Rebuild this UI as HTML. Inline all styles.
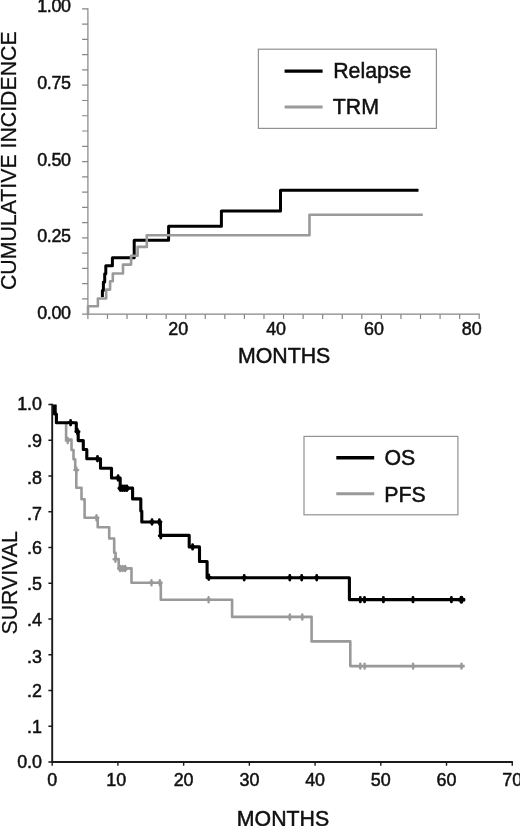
<!DOCTYPE html>
<html><head><meta charset="utf-8"><title>Cumulative incidence and survival</title>
<style>
html,body{margin:0;padding:0;background:#fff;}
body{width:520px;height:826px;overflow:hidden;}
svg{display:block;will-change:transform;}
text{font-family:"Liberation Sans",Arial,sans-serif;fill:#101010;stroke:#101010;stroke-width:0.5px;}
.t17{font-size:17.9px;}
.t21{font-size:21.3px;}
.tt{font-size:21.3px;}
.ls{letter-spacing:-0.35px;}
.rot{stroke-width:0.25px;}
</style></head><body>
<svg width="520" height="826" viewBox="0 0 520 826">
<rect width="520" height="826" fill="#fff"/>
<g stroke="#868686" stroke-width="1.2" fill="none">
<path d="M87.9 8.3V314.8"/>
<path d="M87.3 314.2H479.8"/>
<path d="M82.1 314.20H87.9M82.1 298.94H87.9M82.1 283.67H87.9M82.1 268.40H87.9M82.1 253.14H87.9M82.1 237.88H87.9M82.1 222.61H87.9M82.1 207.34H87.9M82.1 192.08H87.9M82.1 176.81H87.9M82.1 161.55H87.9M82.1 146.28H87.9M82.1 131.02H87.9M82.1 115.75H87.9M82.1 100.49H87.9M82.1 85.22H87.9M82.1 69.96H87.9M82.1 54.69H87.9M82.1 39.43H87.9M82.1 24.16H87.9M82.1 8.90H87.9"/>
<path d="M87.90 314.2V319.0M107.47 314.2V319.0M127.03 314.2V319.0M146.60 314.2V319.0M166.16 314.2V319.0M185.73 314.2V319.0M205.29 314.2V319.0M224.86 314.2V319.0M244.42 314.2V319.0M263.99 314.2V319.0M283.55 314.2V319.0M303.12 314.2V319.0M322.68 314.2V319.0M342.25 314.2V319.0M361.81 314.2V319.0M381.38 314.2V319.0M400.94 314.2V319.0M420.50 314.2V319.0M440.07 314.2V319.0M459.63 314.2V319.0M479.20 314.2V319.0"/>
</g>
<text class="t17 ls" x="70.7" y="12" text-anchor="end">1.00</text>
<text class="t17 ls" x="70.7" y="89" text-anchor="end">0.75</text>
<text class="t17 ls" x="70.7" y="166" text-anchor="end">0.50</text>
<text class="t17 ls" x="70.7" y="242" text-anchor="end">0.25</text>
<text class="t17 ls" x="70.7" y="319" text-anchor="end">0.00</text>
<text class="t17" x="178.2" y="335" text-anchor="middle">20</text>
<text class="t17" x="276.1" y="335" text-anchor="middle">40</text>
<text class="t17" x="373.9" y="335" text-anchor="middle">60</text>
<text class="t17" x="471.7" y="335" text-anchor="middle">80</text>
<text class="tt" x="284.2" y="363" text-anchor="middle">MONTHS</text>
<text class="tt rot" transform="translate(15.7 160.7) rotate(-90)" text-anchor="middle">CUMULATIVE INCIDENCE</text>
<path d="M102.4 297V290.4H103.4V281.9H104.7V273.8H105.8V265.8H112.4V257.7H134.2V240.2H168.6V226.3H221.4V211H280.5V190.2H418.5" fill="none" stroke="#000" stroke-width="3.0" stroke-linejoin="round"/>
<path d="M88 314.2V306.3H97.9V298.5H106.2V289.6H110.1V281.2H112.8V273.5H123V264.6H131.1V255.8H137.6V246.9H146.8V235.2H309.5V214.7H422.8" fill="none" stroke="#9a9a9a" stroke-width="2.6" stroke-linejoin="round"/>
<rect x="258.4" y="49.2" width="178" height="79.2" fill="#fff" stroke="#929292" stroke-width="1.2"/>
<path d="M284.6 71.1H322.6" stroke="#000" stroke-width="3.4"/>
<path d="M284.6 107H322.6" stroke="#9a9a9a" stroke-width="2.9"/>
<text class="t21" x="333.2" y="78">Relapse</text>
<text class="t21" x="332.8" y="114">TRM</text>
<g stroke="#1a1a1a" stroke-width="1.9" fill="none">
<path d="M52.2 403.8V762.7"/>
<path d="M51.5 762.0H512.9"/>
<path d="M48.4 762.00H52.2M48.4 726.25H52.2M48.4 690.50H52.2M48.4 654.75H52.2M48.4 619.00H52.2M48.4 583.25H52.2M48.4 547.50H52.2M48.4 511.75H52.2M48.4 476.00H52.2M48.4 440.25H52.2M48.4 404.50H52.2" stroke-width="1.4"/>
<path d="M52.20 762.0V765.8M117.92 762.0V765.8M183.64 762.0V765.8M249.36 762.0V765.8M315.08 762.0V765.8M380.80 762.0V765.8M446.52 762.0V765.8M512.24 762.0V765.8" stroke-width="1.4"/>
</g>
<text class="t17" x="42.0" y="768" text-anchor="end">0.0</text>
<text class="t17" x="42.0" y="733" text-anchor="end">.1</text>
<text class="t17" x="42.0" y="697" text-anchor="end">.2</text>
<text class="t17" x="42.0" y="663" text-anchor="end">.3</text>
<text class="t17" x="42.0" y="626" text-anchor="end">.4</text>
<text class="t17" x="42.0" y="590" text-anchor="end">.5</text>
<text class="t17" x="42.0" y="554" text-anchor="end">.6</text>
<text class="t17" x="42.0" y="520" text-anchor="end">.7</text>
<text class="t17" x="42.0" y="484" text-anchor="end">.8</text>
<text class="t17" x="42.0" y="447" text-anchor="end">.9</text>
<text class="t17" x="42.0" y="410" text-anchor="end">1.0</text>
<text class="t17" x="52.2" y="786" text-anchor="middle">0</text>
<text class="t17" x="116.3" y="786" text-anchor="middle">10</text>
<text class="t17" x="183.6" y="786" text-anchor="middle">20</text>
<text class="t17" x="249.4" y="786" text-anchor="middle">30</text>
<text class="t17" x="315.1" y="786" text-anchor="middle">40</text>
<text class="t17" x="380.8" y="786" text-anchor="middle">50</text>
<text class="t17" x="446.5" y="786" text-anchor="middle">60</text>
<text class="t17" x="512.2" y="786" text-anchor="middle">70</text>
<text class="tt" x="283.0" y="826" text-anchor="middle">MONTHS</text>
<text class="tt rot" transform="translate(17.0 582.8) rotate(-90)" text-anchor="middle">SURVIVAL</text>
<path d="M66.1 422.7V439.5H71.5V450H73.5V459.2H75.2V469.6H76.3V487.7H81.5V499.2H84.6V517.7H97.7V527.3H109.2V538.5H114.2V552.7H115.6V559H118.7V568.4H131.5V582.7H160.8V599.7H232.1V616.9H311.6V641.4H350.3V666.1H464.6" fill="none" stroke="#999" stroke-width="2.6" stroke-linejoin="round"/>
<path d="M67.7 438.0V443.0M65.9 440.5H69.5M76.3 467.5V472.5M74.5 470H78.1M96.5 515.2V520.2M94.7 517.7H98.3M115.4 556.7V561.7M113.6 559.2H117.2M120 566.0V571.0M118.2 568.5H121.8M122.5 566.0V571.0M120.7 568.5H124.3M125 566.0V571.0M123.2 568.5H126.8M151.5 580.2V585.2M149.7 582.7H153.3M159.8 580.2V585.2M158.0 582.7H161.6M208.6 597.2V602.2M206.8 599.7H210.4M289.8 614.5V619.5M288.0 617H291.6M302.3 614.5V619.5M300.5 617H304.1M360.3 663.6V668.6M358.5 666.1H362.1M364.6 663.6V668.6M362.8 666.1H366.4M413.1 663.6V668.6M411.3 666.1H414.9M461.5 663.6V668.6M459.7 666.1H463.3" fill="none" stroke="#999" stroke-width="2.4" stroke-linecap="round"/>
<path d="M120.3 568.6H125.2" fill="none" stroke="#999" stroke-width="5" stroke-linecap="round"/>
<path d="M54.6 404.8V414H56.4V422.7H76.3V431.7H78.2V440.6H83.3V449.5H86.8V458.8H100.5V468.3H111.5V478H120.2V488.1H132.6V498.9H140.8V511H141.8V522H160.4V535.4H189.2V546.9H199.5V561.5H207.1V577.7H349.4V599.6H465" fill="none" stroke="#000" stroke-width="3.1" stroke-linejoin="round"/>
<path d="M55 404.6V414.6" stroke="#000" stroke-width="3.4" fill="none"/>
<path d="M70.6 420.4V425.0M69.0 422.7H72.2M77.5 429.4V434.0M75.9 431.7H79.1M97.5 456.5V461.1M95.9 458.8H99.1M118.1 475.7V480.3M116.5 478H119.7M120.4 486.0V490.6M118.8 488.3H122.0M122.6 486.0V490.6M121.0 488.3H124.2M124.8 486.0V490.6M123.2 488.3H126.4M126.9 486.0V490.6M125.3 488.3H128.5M152 519.7V524.3M150.4 522H153.6M159.4 519.7V524.3M157.8 522H161.0M160.8 533.5V538.1M159.2 535.8H162.4M192.6 544.6V549.2M191.0 546.9H194.2M208.8 575.0V579.6M207.2 577.3H210.4M244.2 575.4V580.0M242.6 577.7H245.8M289.8 575.4V580.0M288.2 577.7H291.4M301.7 575.4V580.0M300.1 577.7H303.3M316.7 575.4V580.0M315.1 577.7H318.3M360.3 597.3V601.9M358.7 599.6H361.9M364.5 597.3V601.9M362.9 599.6H366.1M383.4 597.3V601.9M381.8 599.6H385.0M413 597.3V601.9M411.4 599.6H414.6M451.4 597.3V601.9M449.8 599.6H453.0M461.3 597.3V601.9M459.7 599.6H462.9" fill="none" stroke="#000" stroke-width="2.8" stroke-linecap="round"/>
<path d="M121 488.4H126.4" fill="none" stroke="#000" stroke-width="5.6" stroke-linecap="round"/>
<path d="M461.4 597.6V601.8M459.6 599.7H463.6" fill="none" stroke="#000" stroke-width="3.8" stroke-linecap="round"/>
<rect x="304" y="436.4" width="153.9" height="78.4" fill="#fff" stroke="#929292" stroke-width="1.2"/>
<path d="M336.3 457.7H374.2" stroke="#000" stroke-width="3.4"/>
<path d="M336.3 493.8H374.2" stroke="#999" stroke-width="2.9"/>
<text class="t21" x="384.5" y="465">OS</text>
<text class="t21" x="384.2" y="501.5">PFS</text>
</svg>
</body></html>
